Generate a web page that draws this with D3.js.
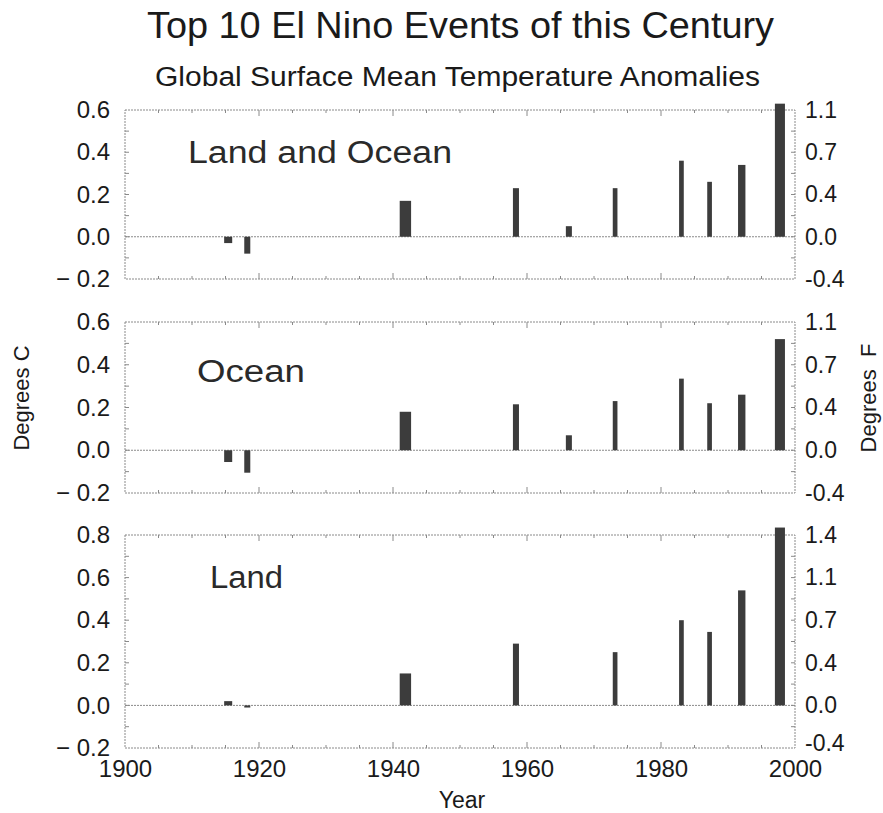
<!DOCTYPE html>
<html>
<head>
<meta charset="utf-8">
<script src="https://cdn.jsdelivr.net/npm/d3@7"></script>
<style>
  html, body { margin: 0; padding: 0; background: #fff; }
  svg { display: block; }
  text { font-family: "Liberation Sans", Arial, Helvetica, sans-serif; }
</style>
</head>
<body>
<svg id="chart" width="883" height="813"></svg>
<script>
// ---------------- data ----------------
const titleText = "Top 10 El Nino Events of this Century";
const subtitleText = "Global Surface Mean Temperature Anomalies";
const panelNames = ["Land and Ocean", "Ocean", "Land"];

// event periods (start / end year of each El Nino bar)
const eventStart = [1914.8, 1917.8, 1941.0, 1957.9, 1965.8, 1972.8, 1982.7, 1986.9, 1991.5, 1997.0];
const eventEnd   = [1916.0, 1918.7, 1942.7, 1958.8, 1966.7, 1973.5, 1983.4, 1987.6, 1992.6, 1998.5];

// anomalies, degrees C
const landOcean = [-0.03, -0.08, 0.17, 0.23, 0.05, 0.23, 0.36, 0.26, 0.34, 0.63];
const ocean     = [-0.055, -0.105, 0.18, 0.215, 0.07, 0.23, 0.335, 0.22, 0.26, 0.52];
const land      = [0.02, -0.01, 0.15, 0.29, 0, 0.25, 0.40, 0.345, 0.54, 0.835];

// tick values / labels
const xTicks = [1900, 1920, 1940, 1960, 1980, 2000];
const cTicksSmall = [-0.2, 0.0, 0.2, 0.4, 0.6];
const cLabelsSmall = ["\u2212 0.2", "0.0", "0.2", "0.4", "0.6"];
const fLabelsSmall = ["-0.4", "0.0", "0.4", "0.7", "1.1"];
const cTicksLarge = [-0.2, 0.0, 0.2, 0.4, 0.6, 0.8];
const cLabelsLarge = ["\u2212 0.2", "0.0", "0.2", "0.4", "0.6", "0.8"];
const fLabelsLarge = ["-0.4", "0.0", "0.4", "0.7", "1.1", "1.4"];

// ---------------- layout ----------------
const svg = d3.select("#chart");
const X0 = 125, X1 = 795;
const x = d3.scaleLinear().domain([1900, 2000]).range([X0, X1]);

const panels = [
  { name: panelNames[0], values: landOcean, top: 110, bottom: 279, domain: [-0.2, 0.6],
    ticks: cTicksSmall, cl: cLabelsSmall, fl: fLabelsSmall, lx: 188, ly: 163, lw: 264 },
  { name: panelNames[1], values: ocean, top: 322, bottom: 493, domain: [-0.2, 0.6],
    ticks: cTicksSmall, cl: cLabelsSmall, fl: fLabelsSmall, lx: 197, ly: 382, lw: 108 },
  { name: panelNames[2], values: land, top: 535, bottom: 748, domain: [-0.2, 0.8],
    ticks: cTicksLarge, cl: cLabelsLarge, fl: fLabelsLarge, lx: 210, ly: 588, lw: 73 }
];

const frameColor = "#8a8a8a";
const barColor = "#3c3c3c";
const textColor = "#1a1a1a";

// title
svg.append("text").attr("x", 147).attr("y", 38)
  .attr("font-size", 36).attr("textLength", 627).attr("lengthAdjust", "spacingAndGlyphs")
  .style("fill", textColor).text(titleText);
svg.append("text").attr("x", 155).attr("y", 86)
  .attr("font-size", 27).attr("textLength", 605).attr("lengthAdjust", "spacingAndGlyphs")
  .style("fill", textColor).text(subtitleText);

panels.forEach((p, pi) => {
  const y = d3.scaleLinear().domain(p.domain).range([p.bottom, p.top]);
  const g = svg.append("g");

  // frame
  g.append("rect").attr("x", X0).attr("y", p.top)
    .attr("width", X1 - X0).attr("height", p.bottom - p.top)
    .attr("fill", "none").attr("stroke", frameColor).attr("stroke-width", 1)
    .attr("stroke-dasharray", "2,1");

  // zero line
  g.append("line").attr("x1", X0).attr("x2", X1).attr("y1", y(0)).attr("y2", y(0))
    .attr("stroke", frameColor).attr("stroke-width", 1).attr("stroke-dasharray", "2,1");

  // x ticks (inward, top and bottom)
  const minorYears = d3.range(1905, 2000, 5);
  minorYears.forEach(yr => {
    const len = (yr % 20 === 0) ? 6 : 3;
    g.append("line").attr("x1", x(yr)).attr("x2", x(yr)).attr("y1", p.bottom).attr("y2", p.bottom - len)
      .attr("stroke", frameColor);
    g.append("line").attr("x1", x(yr)).attr("x2", x(yr)).attr("y1", p.top).attr("y2", p.top + len)
      .attr("stroke", frameColor);
  });

  // y minor ticks (every 0.1) left and right
  const yMinor = d3.range(Math.round(p.domain[0] * 10) + 1, Math.round(p.domain[1] * 10)).map(v => v / 10);
  yMinor.forEach(v => {
    g.append("line").attr("x1", X0).attr("x2", X0 + 4).attr("y1", y(v)).attr("y2", y(v)).attr("stroke", frameColor);
    g.append("line").attr("x1", X1).attr("x2", X1 - 4).attr("y1", y(v)).attr("y2", y(v)).attr("stroke", frameColor);
  });

  // left axis labels (deg C)
  const leftAxis = d3.axisLeft(y).tickValues(p.ticks).tickSize(0).tickPadding(15)
    .tickFormat((d, i) => p.cl[i]);
  const la = svg.append("g").attr("transform", `translate(${X0},0)`).call(leftAxis);
  la.select(".domain").remove();
  la.selectAll("text").attr("font-size", 24).attr("font-family", "Liberation Sans, Arial, sans-serif")
    .style("fill", textColor);

  // right axis labels (deg F)
  const rightAxis = d3.axisRight(y).tickValues(p.ticks).tickSize(0).tickPadding(10)
    .tickFormat((d, i) => p.fl[i]);
  const ra = svg.append("g").attr("transform", `translate(${X1},0)`).call(rightAxis);
  ra.select(".domain").remove();
  ra.selectAll("text").attr("font-size", 23).attr("font-family", "Liberation Sans, Arial, sans-serif")
    .style("fill", textColor);
  if (pi === 2) {
    ra.selectAll("text").filter((d, i) => i === 0).attr("dy", "0.1em");
  }

  // bars
  g.selectAll("rect.bar").data(p.values.map((v, i) => ({ v, s: eventStart[i], e: eventEnd[i] })))
    .join("rect").attr("class", "bar")
    .attr("x", d => x(d.s))
    .attr("width", d => x(d.e) - x(d.s))
    .attr("y", d => Math.min(y(d.v), y(0)))
    .attr("height", d => Math.abs(y(d.v) - y(0)))
    .attr("fill", barColor);

  // panel label (thin, light)
  g.append("text").attr("x", p.lx).attr("y", p.ly)
    .attr("font-size", 31).attr("font-family", "DejaVu Sans, sans-serif").attr("font-weight", 200)
    .attr("textLength", p.lw).attr("lengthAdjust", "spacingAndGlyphs")
    .style("fill", "#2a2a2a")
    .text(p.name);

  // bottom x axis labels
  if (pi === 2) {
    const xAxis = d3.axisBottom(x).tickValues(xTicks).tickSize(0).tickPadding(12)
      .tickFormat(d3.format("d"));
    const xa = svg.append("g").attr("transform", `translate(0,${p.bottom})`).call(xAxis);
    xa.select(".domain").remove();
    xa.selectAll("text").attr("font-size", 24).attr("font-family", "Liberation Sans, Arial, sans-serif")
      .style("fill", textColor);
  }
});

// axis titles
svg.append("text").attr("transform", "translate(29,398) rotate(-90)")
  .attr("text-anchor", "middle").attr("font-size", 22).style("fill", textColor).text("Degrees C");
svg.append("text").attr("transform", "translate(876,398) rotate(-90)")
  .attr("text-anchor", "middle").attr("font-size", 22).attr("xml:space", "preserve")
  .style("white-space", "pre").style("fill", textColor).text("Degrees  F");
svg.append("text").attr("x", 462).attr("y", 808)
  .attr("text-anchor", "middle").attr("font-size", 23).style("fill", textColor).text("Year");
</script>
</body>
</html>
